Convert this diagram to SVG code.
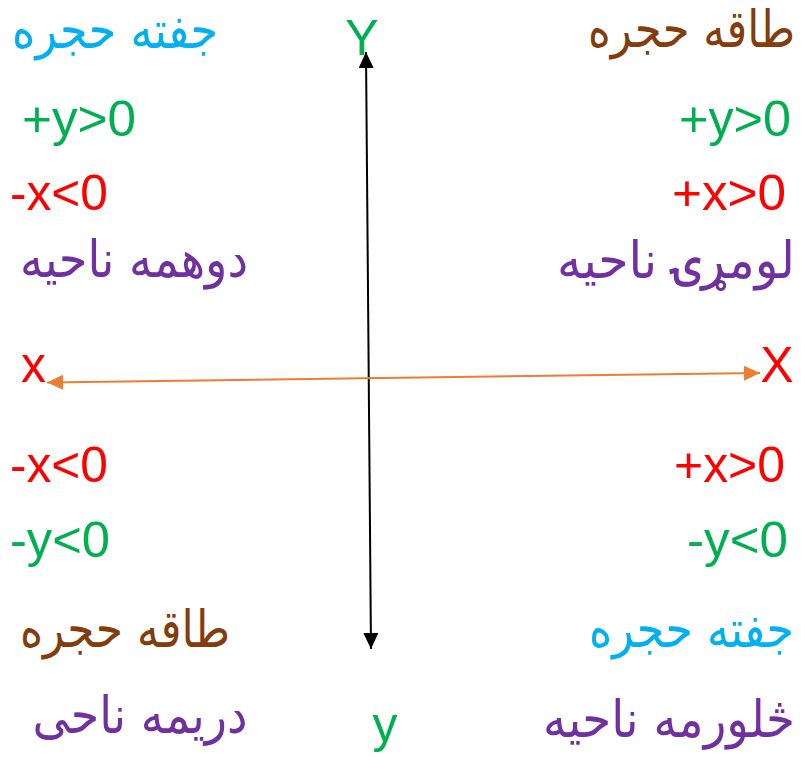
<svg xmlns="http://www.w3.org/2000/svg" width="801" height="757" viewBox="0 0 801 757">
<style>
.ar{font-family:"DejaVu Sans",sans-serif;font-size:44px;text-anchor:middle}
.re{text-anchor:end}
.m{font-family:"Liberation Sans",Arial,sans-serif;font-size:50px}
.cy{fill:#00B0F0}.br{fill:#843C0C}.pu{fill:#7030A0}.gr{fill:#00B050}.rd{fill:#FF0000}
</style>
<defs>
<marker id="ab" markerUnits="userSpaceOnUse" markerWidth="16" markerHeight="15" refX="16" refY="7.5" orient="auto-start-reverse" viewBox="0 0 16 15"><path d="M0,0 L16,7.5 L0,15 z" fill="#000"/></marker>
<marker id="ao" markerUnits="userSpaceOnUse" markerWidth="16" markerHeight="15" refX="16" refY="7.5" orient="auto-start-reverse" viewBox="0 0 16 15"><path d="M0,0 L16,7.5 L0,15 z" fill="#ED7D31"/></marker>
</defs>
<rect width="801" height="757" fill="#fff"/>
<g id="connectors">
<line x1="366" y1="52" x2="371" y2="649" stroke="#000" stroke-width="2" marker-start="url(#ab)" marker-end="url(#ab)"/>
<line x1="47" y1="382.5" x2="760" y2="373" stroke="#ED7D31" stroke-width="2" marker-start="url(#ao)" marker-end="url(#ao)"/>
</g>
<g id="axis-labels">
<text id="lbl-Y" class="m gr" x="362" y="55" text-anchor="middle" font-size="51">Y</text>
<text id="lbl-y" class="m gr" x="385" y="742" text-anchor="middle" font-size="51">y</text>
<text id="lbl-x" class="m rd" x="33.5" y="382" text-anchor="middle" font-size="51">x</text>
<text id="lbl-X" class="m rd" x="777" y="382" text-anchor="middle" font-size="51">X</text>
</g>
<g id="q2">
<text class="ar cy" transform="translate(115,48) scale(1,1.18)" textLength="206" lengthAdjust="spacingAndGlyphs">جفته حجره</text>
<text class="m gr" x="22" y="136" textLength="114" lengthAdjust="spacingAndGlyphs">+y&gt;0</text>
<text class="m rd" x="10" y="210" textLength="98" lengthAdjust="spacingAndGlyphs">-x&lt;0</text>
<text class="ar pu" transform="translate(134,277) scale(1,1.18)" textLength="228" lengthAdjust="spacingAndGlyphs">دوهمه ناحیه</text>
</g>
<g id="q1">
<text class="ar br re" transform="translate(795,47) scale(1,1.18)" textLength="207" lengthAdjust="spacingAndGlyphs">طاقه حجره</text>
<text class="m gr" x="679" y="136" textLength="112" lengthAdjust="spacingAndGlyphs">+y&gt;0</text>
<text class="m rd" x="672" y="210" textLength="114" lengthAdjust="spacingAndGlyphs">+x&gt;0</text>
<text class="ar pu re" transform="translate(795,278) scale(1,1.18)" textLength="238" lengthAdjust="spacingAndGlyphs">لومړۍ ناحیه</text>
</g>
<g id="q3">
<text class="m rd" x="10" y="482" textLength="98" lengthAdjust="spacingAndGlyphs">-x&lt;0</text>
<text class="m gr" x="10" y="557" textLength="100" lengthAdjust="spacingAndGlyphs">-y&lt;0</text>
<text class="ar br" transform="translate(125,647) scale(1,1.18)" textLength="210" lengthAdjust="spacingAndGlyphs">طاقه حجره</text>
<text class="ar pu" transform="translate(140,733) scale(1,1.18)" textLength="215" lengthAdjust="spacingAndGlyphs">دریمه ناحی</text>
</g>
<g id="q4">
<text class="m rd" x="674" y="482" textLength="111" lengthAdjust="spacingAndGlyphs">+x&gt;0</text>
<text class="m gr" x="687" y="557" textLength="101" lengthAdjust="spacingAndGlyphs">-y&lt;0</text>
<text class="ar cy re" transform="translate(794,647) scale(1,1.18)" textLength="205" lengthAdjust="spacingAndGlyphs">جفته حجره</text>
<text class="ar pu re" transform="translate(795,737) scale(1,1.18)" textLength="252" lengthAdjust="spacingAndGlyphs">څلورمه ناحیه</text>
</g>
</svg>
